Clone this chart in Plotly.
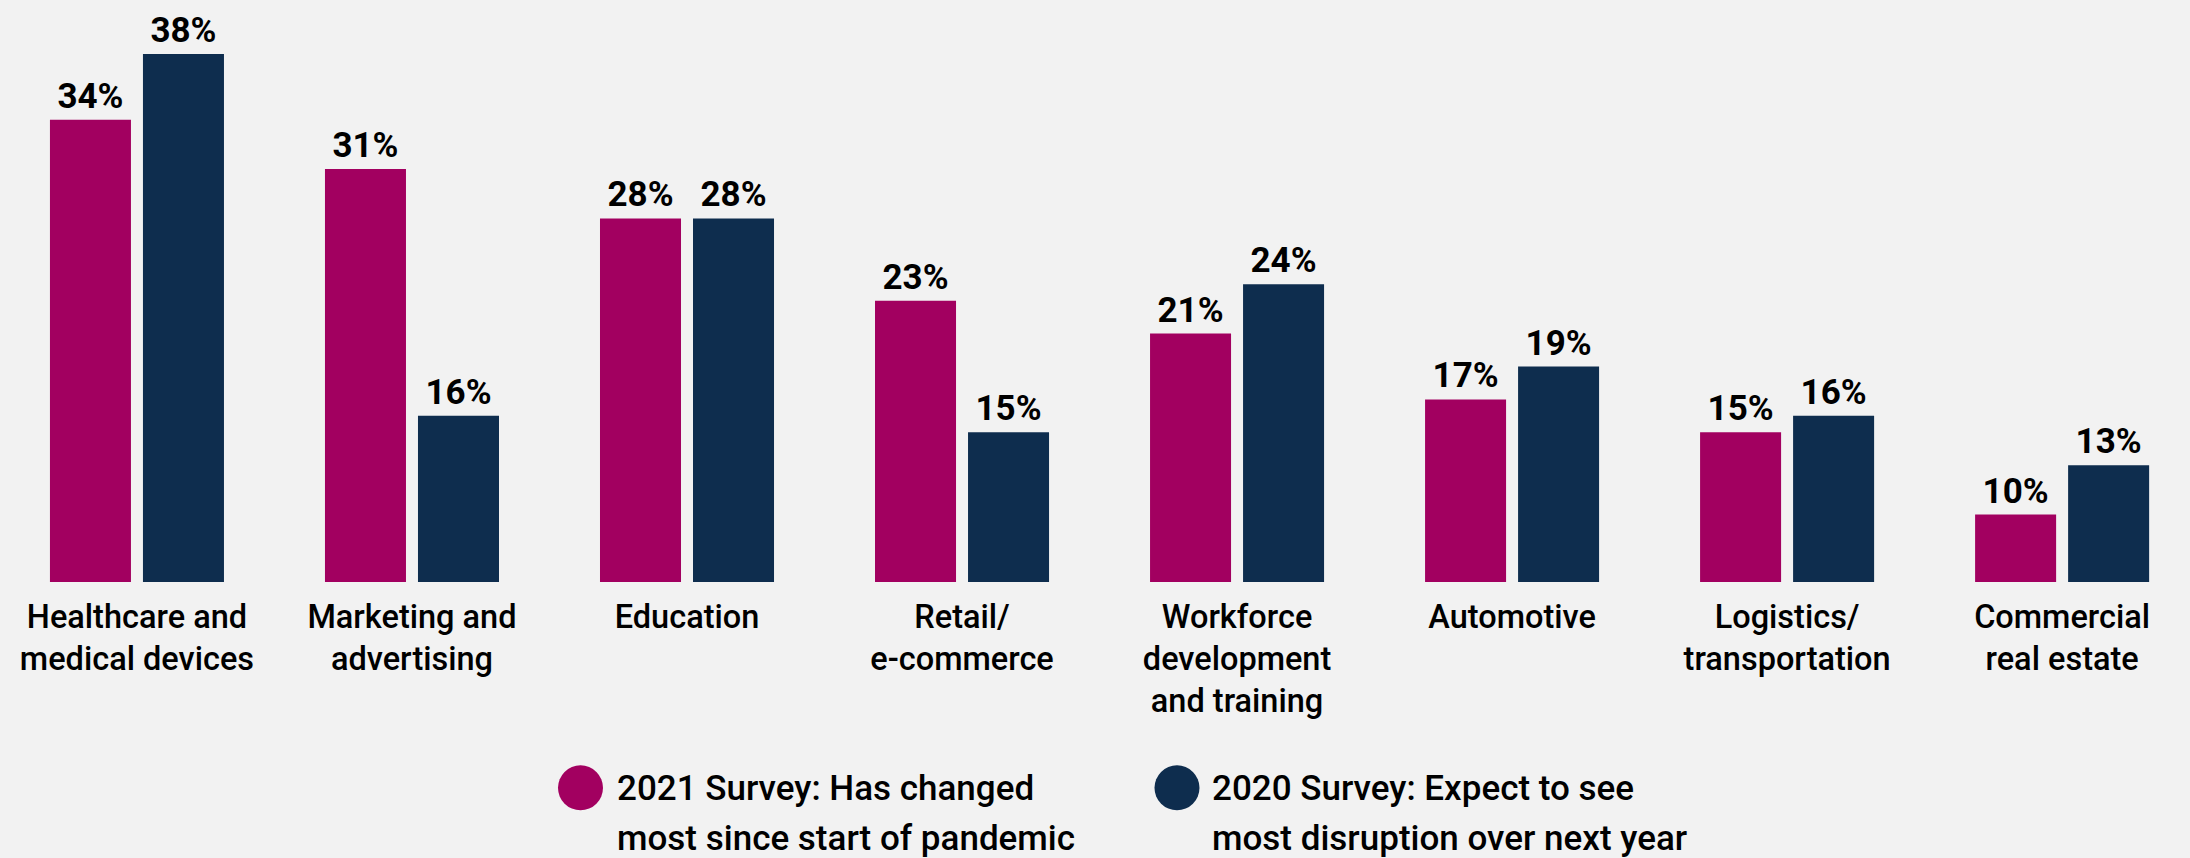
import plotly.graph_objects as go

# Industries surveyed (multi-line tick labels)
categories = [
    "Healthcare and<br>medical devices",
    "Marketing and<br>advertising",
    "Education",
    "Retail/<br>e-commerce",
    "Workforce<br>development<br>and training",
    "Automotive",
    "Logistics/<br>transportation",
    "Commercial<br>real estate",
]

# Share of respondents (%)
survey_2021 = [34, 31, 28, 23, 21, 17, 15, 10]
survey_2020 = [38, 16, 28, 15, 24, 19, 16, 13]

legend_2021 = ["2021 Survey: Has changed", "most since start of pandemic"]
legend_2020 = ["2020 Survey: Expect to see", "most disruption over next year"]

MAGENTA = "#A20060"
NAVY = "#0E2D4E"
BG = "#F2F2F2"

W, H = 2190, 858
PLOT_BOTTOM = 582.5  # pixel row of the bar baseline

LABEL_FONT = dict(family="Roboto, Arial, sans-serif", size=35, color="#000000", weight=700)
TICK_FONT = dict(family="Roboto, Arial, sans-serif", size=32.5, color="#000000", weight=500)
LEGEND_FONT = dict(family="Roboto, Arial, sans-serif", size=35, color="#000000", weight=500)

fig = go.Figure()
fig.add_trace(go.Bar(
    x=categories, y=survey_2021, name=" ".join(legend_2021),
    marker=dict(color=MAGENTA, line=dict(width=0)),
    text=[f"{v}%" for v in survey_2021], textposition="outside",
    textfont=LABEL_FONT, cliponaxis=False, showlegend=False,
))
fig.add_trace(go.Bar(
    x=categories, y=survey_2020, name=" ".join(legend_2020),
    marker=dict(color=NAVY, line=dict(width=0)),
    text=[f"{v}%" for v in survey_2020], textposition="outside",
    textfont=LABEL_FONT, cliponaxis=False, showlegend=False,
))


def py(px):
    """Convert a pixel row to paper y (paper spans the plot area)."""
    return 1 - px / PLOT_BOTTOM


def px_x(px):
    return px / W


# Legend drawn as circles plus two-line captions
shapes = []
annotations = []
for cx, tx, color, lines in [
    (580.5, 615, MAGENTA, legend_2021),
    (1177, 1210, NAVY, legend_2020),
]:
    r = 22.5
    shapes.append(dict(
        type="circle", xref="paper", yref="paper",
        x0=px_x(cx - r), x1=px_x(cx + r), y0=py(788.5 + r), y1=py(788.5 - r),
        fillcolor=color, line=dict(width=0),
    ))
    for i, line in enumerate(lines):
        annotations.append(dict(
            text=line, xref="paper", yref="paper",
            x=px_x(tx), y=py(789.4 + 49.5 * i),
            xanchor="left", yanchor="middle", showarrow=False,
            font=LEGEND_FONT,
        ))

fig.update_layout(
    width=W, height=H,
    margin=dict(l=0, r=0, t=0, b=H - PLOT_BOTTOM, pad=0),
    paper_bgcolor=BG, plot_bgcolor=BG,
    barmode="group", bargap=0.3236, bargroupgap=0.129,
    showlegend=False,
    xaxis=dict(
        type="category", range=[-0.498, 7.465],
        showgrid=False, zeroline=False, showline=False, ticks="",
        tickfont=TICK_FONT, ticklabelstandoff=12, fixedrange=True,
    ),
    yaxis=dict(range=[5.90, 41.28], visible=False, fixedrange=True),
    uniformtext=dict(mode=False),
    shapes=shapes,
    annotations=annotations,
)

fig.write_html("out.html")
